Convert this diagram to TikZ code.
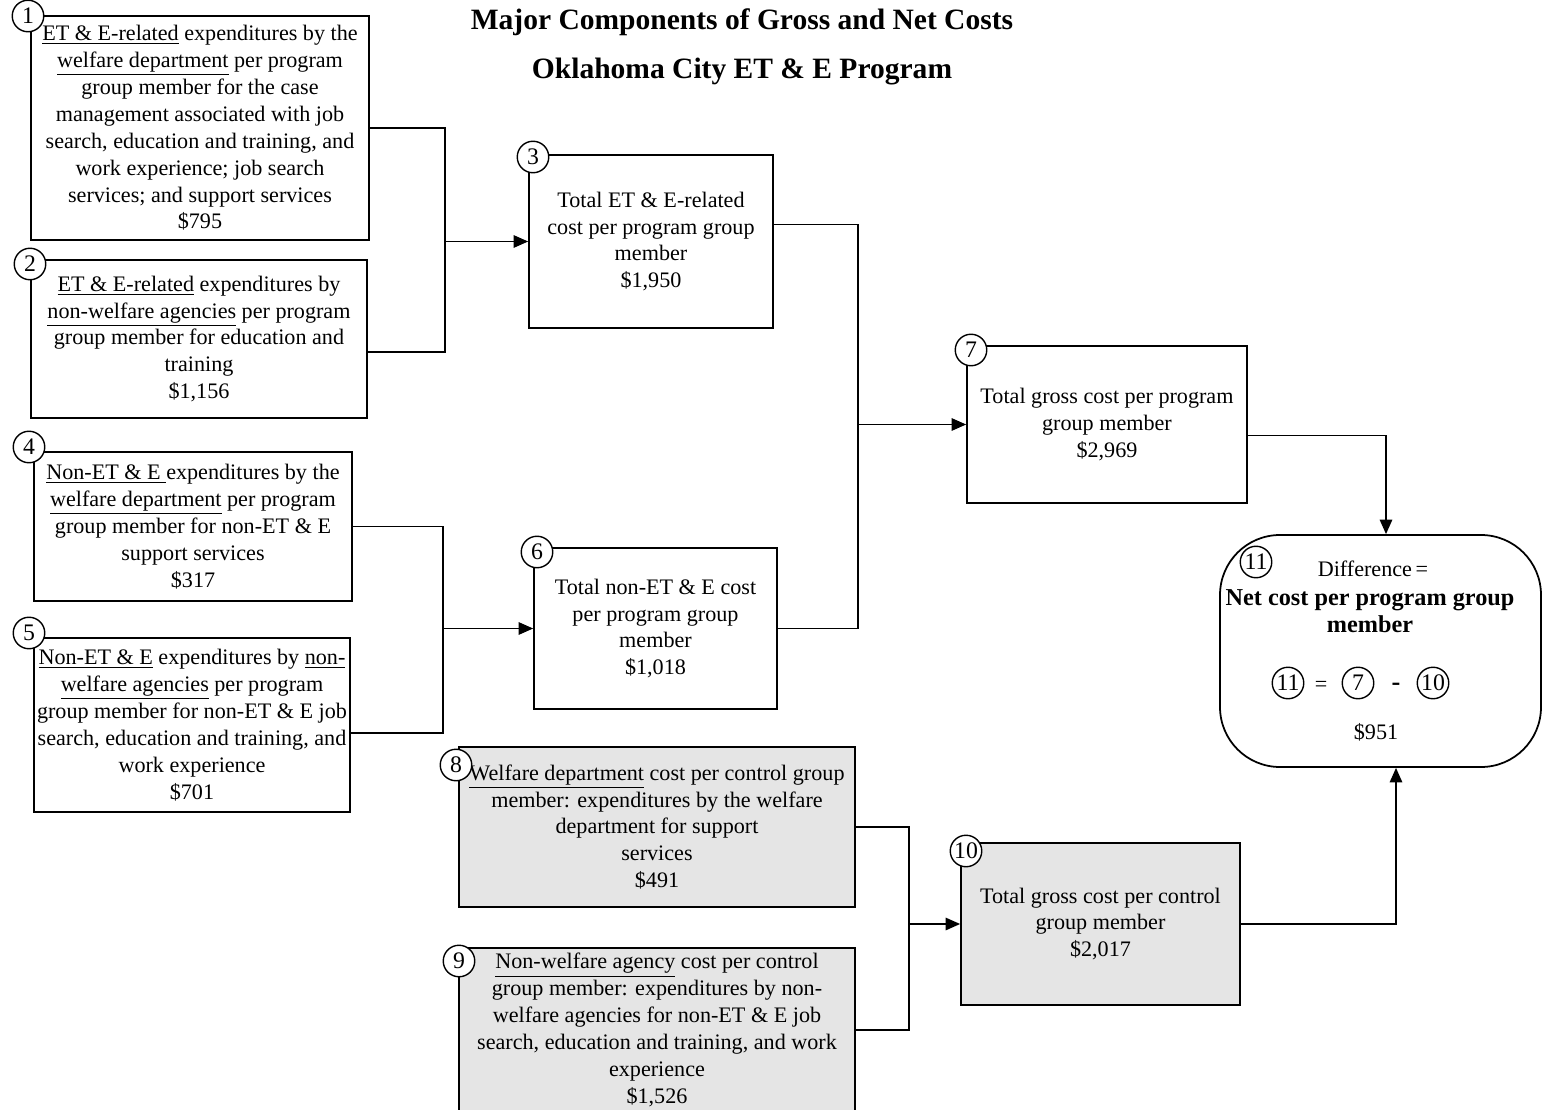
\documentclass[tikz,border=0pt]{standalone}
\usepackage{fontspec}
\setmainfont{Liberation Serif}
\usetikzlibrary{arrows.meta, positioning, calc}

\begin{document}
\begin{tikzpicture}[
    x=0.2mm, y=-0.2mm,
    font=\fontsize{12.6}{15.3}\selectfont,
    cbox/.style={draw, line width=1pt, align=center, inner sep=0pt},
    ctrlbox/.style={cbox, fill=gray!20},
    numc/.style={circle, draw, fill=white, line width=0.8pt, minimum size=6.3mm, inner sep=0.3pt, font=\fontsize{13.5}{14}\selectfont},
    conn/.style={draw, line width=0.8pt},
    arr/.style={->, >={Triangle[length=2.9mm, width=2.5mm]}, line width=0.8pt},
    ttl/.style={font=\fontsize{16.8}{19}\selectfont\bfseries}
]
    \useasboundingbox (0,0) rectangle (1543,1110);

    \node[ttl] (t1) at (742,22) {Major Components of Gross and Net Costs};
    \node[ttl] (t2) at (742,72) {Oklahoma City ET \& E Program};

    % program group boxes
    \node[cbox, minimum width=67.6mm, minimum height=44.8mm] (b1) at (200,128)
        {\underline{ET \& E-related} expenditures by the\\ \underline{welfare department} per program\\
         group member for the case\\ management associated with job\\
         search, education and training, and\\ work experience; job search\\
         services; and support services\\ \$795};
    \node[cbox, minimum width=67.2mm, minimum height=31.6mm] (b2) at (199,339)
        {\underline{ET \& E-related} expenditures by\\ \underline{non-welfare agencies} per program\\
         group member for education and\\ training\\ \$1,156};
    \node[cbox, minimum width=48.8mm, minimum height=34.6mm] (b3) at (651,241.5)
        {Total ET \& E-related\\ cost per program group\\ member\\ \$1,950};
    \node[cbox, minimum width=63.6mm, minimum height=29.8mm] (b4) at (193,526.5)
        {\underline{Non-ET \& E\ }expenditures by the\\ \underline{welfare department} per program\\
         group member for non-ET \& E\\ support services\\ \$317};
    \node[cbox, minimum width=63.2mm, minimum height=34.8mm] (b5) at (192,725)
        {\underline{Non-ET \& E} expenditures by \underline{non-}\\ \underline{welfare agencies} per program\\
         group member for non-ET \& E job\\ search, education and training, and\\
         work experience\\ \$701};
    \node[cbox, minimum width=48.6mm, minimum height=32.2mm] (b6) at (655.5,628.5)
        {Total non-ET \& E cost\\ per program group\\ member\\ \$1,018};
    \node[cbox, minimum width=56mm, minimum height=31.4mm] (b7) at (1107,424.5)
        {Total gross cost per program\\ group member\\ \$2,969};

    % control group boxes
    \node[ctrlbox, minimum width=79.2mm, minimum height=32mm] (b8) at (657,827)
        {\underline{Welfare department} cost per control group\\ member: expenditures by the welfare\\
         department for support\\ services\\ \$491};
    \node[ctrlbox, minimum width=79.2mm, minimum height=32.8mm] (b9) at (657,1030)
        {\underline{Non-welfare agency} cost per control\\ group member: expenditures by non-\\
         welfare agencies for non-ET \& E job\\ search, education and training, and work\\
         experience\\ \$1,526};
    \node[ctrlbox, minimum width=55.8mm, minimum height=32.4mm] (b10) at (1100.5,924)
        {Total gross cost per control\\ group member\\ \$2,017};

    % net cost
    \node[draw, line width=1pt, rounded corners=12mm, minimum width=64.2mm, minimum height=46.4mm] (n11) at (1380.5,651) {};
    \node (d1) at (1373,569) {Difference\,=};
    \node[font=\fontsize{13.8}{15.3}\selectfont\bfseries, align=center] (d2) at (1370,611) {Net cost per program group\\ member};
    \node[numc] (f11) at (1288,683) {11};
    \node (feq) at (1321,686) {=};
    \node[numc] (f7) at (1358,683) {7};
    \node[font=\fontsize{15}{15.3}\selectfont\bfseries] (fmin) at (1396,687) {-};
    \node[numc] (f10) at (1433,683) {10};
    \node (d3) at (1376,732) {\$951};

    % number tags
    \node[numc] (c1) at (28,16) {1};
    \node[numc] (c2) at (30,264) {2};
    \node[numc] (c3) at (533,157) {3};
    \node[numc] (c4) at (29,447) {4};
    \node[numc] (c5) at (29,633) {5};
    \node[numc] (c6) at (537,552) {6};
    \node[numc] (c7) at (971,350) {7};
    \node[numc] (c8) at (456,765) {8};
    \node[numc] (c9) at (459,961) {9};
    \node[numc] (c10) at (966,851) {10};
    \node[numc] (c11) at (1256,562) {11};

    % connectors
    \coordinate (j12) at ($(b3.west)+(-83,0)$);
    \draw[conn] (b1.east) -| (j12) |- ($(b2.east)+(0,13)$);
    \draw[arr] (j12) -- (b3.west);

    \coordinate (j36) at ($(b7.west)+(-108,0)$);
    \draw[conn] ($(b3.east)+(0,-17)$) -| (j36) |- (b6.east);
    \draw[arr] (j36) -- (b7.west);

    \coordinate (j45) at ($(b6.west)+(-90,0)$);
    \draw[conn] (b4.east) -| (j45) |- ($(b5.east)+(0,8)$);
    \draw[arr] (j45) -- (b6.west);

    \coordinate (j89) at ($(b10.west)+(-51,0)$);
    \draw[conn] (b8.east) -| (j89) |- (b9.east);
    \draw[arr] (j89) -- (b10.west);

    \draw[arr] ($(b7.east)+(0,11)$) -| ($(n11.north)+(5.5,0)$);
    \draw[arr] (b10.east) -| ($(n11.south)+(15.5,0)$);
\end{tikzpicture}
\end{document}
